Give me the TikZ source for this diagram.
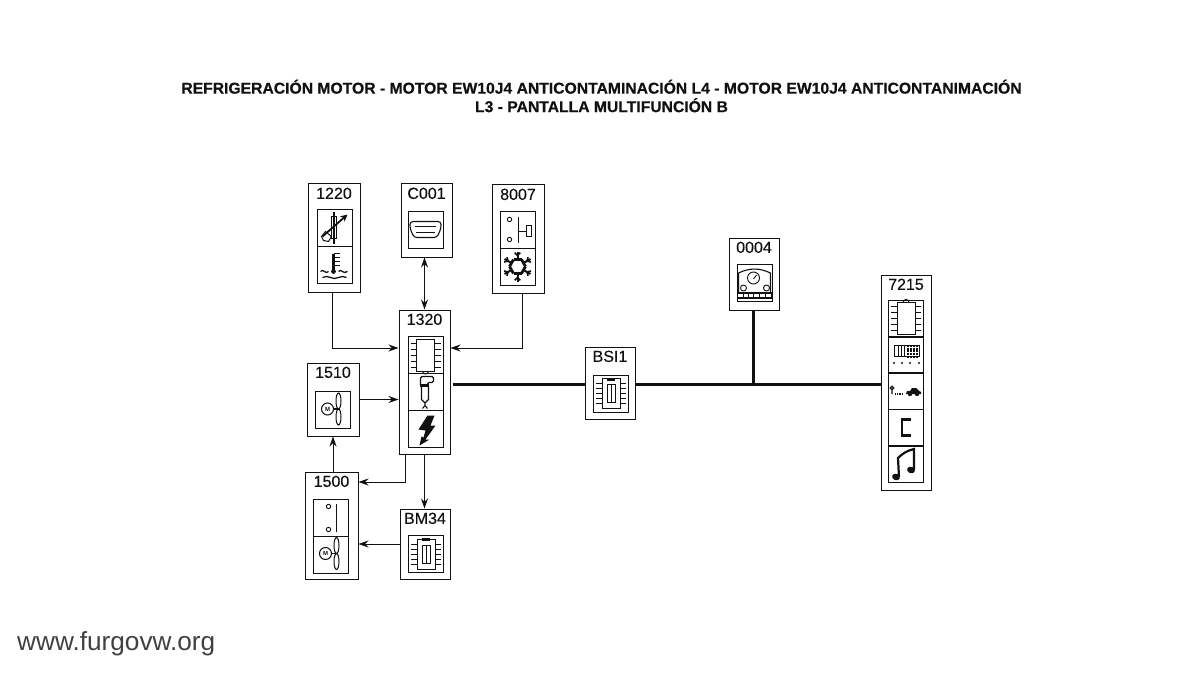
\documentclass[tikz,border=0pt]{standalone}
\usepackage{fontspec}
\setmainfont{Liberation Sans}
\newfontfamily\unitfont[FakeBold=0.25]{Liberation Sans}
\newfontfamily\headfont[FakeBold=0.4]{Liberation Sans Bold}
\usetikzlibrary{arrows.meta,positioning}
\definecolor{ink}{HTML}{111111}
\tikzset{
  pics/chipic/.style={code={
    \draw[line width=1pt] (-9,-16) rectangle (9,16);
    \foreach \yy in {-12,-6,0,6,12} {
      \draw[line width=1pt] (-15,\yy) -- (-9,\yy) (9,\yy) -- (15,\yy);
    }
    \draw[line width=1pt] (-3,16) arc[start angle=180,end angle=0,radius=3];
  }},
  pics/fusechip/.style={code={
    \draw[line width=1pt] (-9,-15) rectangle (9,15);
    \fill (-4,-16) rectangle (4,-13);
    \foreach \yy in {-10,-5,0,5,10} {
      \draw[line width=1pt] (-15,\yy) -- (-9,\yy) (9,\yy) -- (15,\yy);
    }
    \draw[line width=1pt] (-4,-9) rectangle (4,9) (0,-9) -- (0,9);
  }},
  pics/fanmotor/.style={code={
    \draw[line width=1pt] (-5,-1) circle[radius=6];
    \node[font=\bfseries\fontsize{6}{6}\selectfont,inner sep=0pt] at (-5,-1) {M};
    \draw[line width=1.2pt] (1,-1) -- (6,-1);
    \draw[line width=1pt] (6,-9) ellipse[x radius=2.5,y radius=8];
    \draw[line width=1pt] (6,7) ellipse[x radius=2.5,y radius=8];
  }},
  pics/thermres/.style={code={
    \draw[line width=1.1pt] (-3,-11) rectangle (2,11) (-.5,-16) -- (-.5,16);
    \draw[-{Stealth[length=7pt,width=7pt]},line width=1.8pt] (-12,9) -- (13,-13);
    \draw[line width=1pt] (-13,9) -- (-9,4) -- (-3,9) -- (-6,14) -- (-11,13) -- cycle;
  }},
  pics/coolant/.style={code={
    \draw[line width=2.4pt] (-1,-11) -- (-1,7);
    \fill (-1,7) circle[radius=2.4];
    \foreach \yy in {-11,-7,-3,1} {
      \draw[line width=1.1pt] (-1,\yy) -- (5,\yy);
    }
    \draw[line width=1.3pt] (-14,7) sin (-12,6) cos (-10,7) sin (-8,8) cos (-6,7);
    \draw[line width=1.3pt] (4,7) sin (6,6) cos (8,7) sin (10,8) cos (13,7);
    \draw[line width=1.3pt] (-12,13) sin (-8,12) cos (-4,13) sin (0,14) cos (4,13) sin (8,12) cos (12,13);
  }},
  pics/hdconn/.style={code={
    \draw[line width=1.1pt,rounded corners=3pt] (-16,-8) -- (15,-8) -- (15,-1) -- (11,8) -- (-12,8) -- (-16,-1) -- cycle;
    \draw[line width=1.1pt] (-11,-3) -- (10,-3) (-10,3) -- (9,3);
  }},
  pics/pushsw/.style={code={
    \draw[line width=.9pt] (-8,-10) circle[radius=2.2] (-8,10) circle[radius=2.2];
    \draw[line width=1.8pt] (1,-13) -- (1,13);
    \draw[line width=1.1pt] (1,2) -- (9,2);
    \draw[line width=1pt] (9,-4) rectangle (14,7);
  }},
  pics/snowflake/.style={code={
    \foreach \ang in {0,60,...,300} {
      \draw[line width=2.8pt] (\ang:8) -- (\ang+60:8);
      \draw[line width=2pt] (\ang+30:7) -- (\ang+30:15);
      \draw[line width=1.6pt] (\ang+30:11) -- ++(\ang+75:4) (\ang+30:11) -- ++(\ang-15:4);
    }
  }},
  pics/injector/.style={code={
    \draw[line width=1.1pt,rounded corners=1.5pt] (-5,-7) -- (-5,-15) -- (8,-15) -- (8,-9) -- (2,-9) -- (2,-7);
    \draw[line width=2.2pt] (-6,-6) -- (3,-6);
    \draw[line width=1.1pt] (-4,-6) -- (-4,8) -- (-1,11) -- (0,11) -- (3,8) -- (3,-6);
    \draw[line width=1.1pt] (-.5,11) -- (-.5,14) -- (-3,17) (-.5,14) -- (2,17);
  }},
  pics/bolt/.style={code={
    \fill (2,-13) -- (9,-13) -- (5,-3) -- (10,-3) -- (0,11) -- (4,11) -- (-6,17)
      -- (-4,8) -- (-2,9) -- (0,2) -- (-7,1) -- cycle;
  }},
  pics/opensw/.style={code={
    \draw[line width=.9pt] (-2,-11) circle[radius=2.2] (-2,12) circle[radius=2.2];
    \draw[line width=1.8pt] (6,-14) -- (6,14);
  }},
  pics/gauge/.style={code={
    \draw[line width=1.1pt] (-16,10) -- (-16,-10) to[bend left=25] (16,-10) -- (16,10);
    \draw[line width=.9pt] (-1,-5) circle[radius=6] (-1,-4) -- (2,-8);
    \draw[line width=.9pt] (-11,5) circle[radius=3] (12,5) circle[radius=3];
    \draw[line width=1.1pt] (-17,10) rectangle (17,15);
    \foreach \xx in {-11,-6,-1,5,11} {
      \draw[line width=1.1pt] (\xx,10) -- (\xx,15);
    }
  }},
  pics/display/.style={code={
    \draw[line width=1pt] (-12,-10) rectangle (13,1);
    \foreach \xx in {-8,-5,-2} {
      \draw[line width=1pt] (\xx,-10) -- (\xx,1);
    }
    \foreach \xx in {2,5,8,11} {
      \draw[line width=1.6pt,dash pattern=on 2pt off .7pt] (\xx,-10) -- (\xx,3);
    }
    \foreach \xx in {-12,-4,4,13} {
      \fill (\xx,8) circle[radius=1.1];
    }
  }},
  pics/keycar/.style={code={
    \draw[line width=1.2pt] (-14,-3) circle[radius=1.7] (-14,-2) -- (-14,3);
    \draw[line width=1.2pt,dash pattern=on 1.2pt off 1pt] (-11,3) -- (-3,3);
    \fill (0,3) -- (1,0) -- (4,0) -- (6,-3) -- (10,-3) -- (13,0) -- (15,1) -- (15,3) -- cycle;
    \fill (4,3) circle[radius=2.2] (11,3) circle[radius=2.2];
  }},
  pics/bracketc/.style={code={
    \draw[line width=2.2pt] (5,-8) -- (-4,-8) -- (-4,8) -- (5,8);
  }},
  pics/notes/.style={code={
    \fill[rotate around={-25:(-10,13)}] (-10,13) ellipse[x radius=4,y radius=3.2];
    \fill[rotate around={-25:(5,6)}] (5,6) ellipse[x radius=4,y radius=3.2];
    \draw[line width=2.2pt] (-7,13) -- (-8,-6) to[bend left=15] (8,-15) -- (8,6);
  }}
}
\begin{document}
\begin{tikzpicture}[
    x=1pt,y=-1pt,
    >={Stealth[length=10pt,width=7pt]},
    unit/.style={draw=ink,line width=1pt,fill=white,inner sep=0pt},
    title/.style={label={[font=\unitfont\fontsize{16}{16}\selectfont,text=ink,anchor=north,inner sep=0pt,yshift=-4pt]north:#1}},
    icon/.style={draw=ink,line width=1pt,inner sep=0pt,minimum width=35pt,minimum height=37pt},
    flow/.style={->,line width=.9pt,draw=ink},
    bus/.style={line width=3pt,draw=ink}]
    \fill[white] (0,0) rectangle (1200,674);
    \useasboundingbox (0,0) rectangle (1200,674);
    \node[font=\headfont\fontsize{15.7}{18.5}\selectfont,text=ink,align=center] (heading) at (601.5,96)
      {REFRIGERACIÓN MOTOR - MOTOR EW10J4 ANTICONTAMINACIÓN L4 - MOTOR EW10J4 ANTICONTANIMACIÓN\\
       L3 - PANTALLA MULTIFUNCIÓN B};
    \node[font=\fontsize{26.2}{26.2}\selectfont,text=ink!80,anchor=west,inner sep=0pt] (website) at (17,644) {www.furgovw.org};
    % units
    \node[unit,title=1220,minimum width=52pt,minimum height=108pt] (u1220) at (334,238) {};
    \node[unit,title=C001,minimum width=51pt,minimum height=73pt] (uC001) at (426.5,220.5) {};
    \node[unit,title=8007,minimum width=52pt,minimum height=108pt] (u8007) at (518,239) {};
    \node[unit,title=1320,minimum width=51pt,minimum height=144pt] (u1320) at (424.5,382) {};
    \node[unit,title=1510,minimum width=52pt,minimum height=73pt] (u1510) at (333,399.5) {};
    \node[unit,title=1500,minimum width=53pt,minimum height=107pt] (u1500) at (331.5,525.5) {};
    \node[unit,title=BM34,minimum width=50pt,minimum height=70pt] (uBM34) at (425,544) {};
    \node[unit,title=BSI1,minimum width=50pt,minimum height=72pt] (uBSI1) at (610,383) {};
    \node[unit,title=0004,minimum width=50pt,minimum height=72pt] (u0004) at (754,274) {};
    \node[unit,title=7215,minimum width=50pt,minimum height=215pt] (u7215) at (906,382.5) {};
    % icon cells
    \node[icon] (ic1220a) at (334.5,227.5) {};
    \node[icon] (ic1220b) at (334.5,264.5) {};
    \node[icon] (icC001) at (426,229.5) {};
    \node[icon] (ic8007a) at (517.5,229.5) {};
    \node[icon] (ic8007b) at (517.5,266.5) {};
    \node[icon] (ic1320a) at (425.5,355) {};
    \node[icon] (ic1320b) at (425.5,391.5) {};
    \node[icon] (ic1320c) at (425.5,428.5) {};
    \node[icon] (ic1510) at (332.5,410) {};
    \node[icon] (ic1500a) at (330.5,517.5) {};
    \node[icon] (ic1500b) at (330.5,554.5) {};
    \node[icon] (icBM34) at (426,554) {};
    \node[icon] (icBSI1) at (611,393.5) {};
    \node[icon] (ic0004) at (754.5,283) {};
    \node[icon] (ic7215a) at (906,318.5) {};
    \node[icon] (ic7215b) at (906,355) {};
    \node[icon] (ic7215c) at (906,391) {};
    \node[icon] (ic7215d) at (906,427.5) {};
    \node[icon] (ic7215e) at (906,464) {};
    \begin{scope}[ink,draw=ink,fill=ink]
    \pic at (ic1220a) {thermres};
    \pic at (ic1220b) {coolant};
    \pic at (icC001) {hdconn};
    \pic at (ic8007a) {pushsw};
    \pic at (ic8007b) {snowflake};
    \pic at (ic1320a) {chipic};
    \pic at (ic1320b) {injector};
    \pic at (ic1320c) {bolt};
    \pic at (ic1510) {fanmotor};
    \pic at (ic1500a) {opensw};
    \pic at (ic1500b) {fanmotor};
    \pic at (icBM34) {fusechip};
    \pic at (icBSI1) {fusechip};
    \pic at (ic0004) {gauge};
    \pic[rotate=180] at (ic7215a) {chipic};
    \pic at (ic7215b) {display};
    \pic at (ic7215c) {keycar};
    \pic at (ic7215d) {bracketc};
    \pic at (ic7215e) {notes};
    \end{scope}
    % connectors
    \coordinate (tee) at (753,384);
    \draw[flow] ([xshift=-2pt]u1220.south) |- ([yshift=34pt]u1320.west);
    \draw[flow] ([xshift=4pt]u8007.south) |- ([yshift=34pt]u1320.east);
    \draw[flow,<->] (u1320.north |- uC001.south) -- (u1320.north);
    \draw[flow] (u1510.east) -- (u1510.east -| u1320.west);
    \draw[flow] (u1510.south |- u1500.north) -- (u1510.south);
    \draw[flow] ([xshift=-19.5pt]u1320.south) |- ([yshift=43.5pt]u1500.east);
    \draw[flow] (u1320.south) -- (u1320.south |- uBM34.north);
    \draw[flow] (uBM34.west) -- (uBM34.west -| u1500.east);
    \draw[bus] ([xshift=2pt]u1320.east |- tee) -- (uBSI1.west |- tee);
    \draw[bus] (uBSI1.east |- tee) -- (u7215.west |- tee);
    \draw[bus] (tee |- u0004.south) -- (tee);
\end{tikzpicture}
\end{document}
